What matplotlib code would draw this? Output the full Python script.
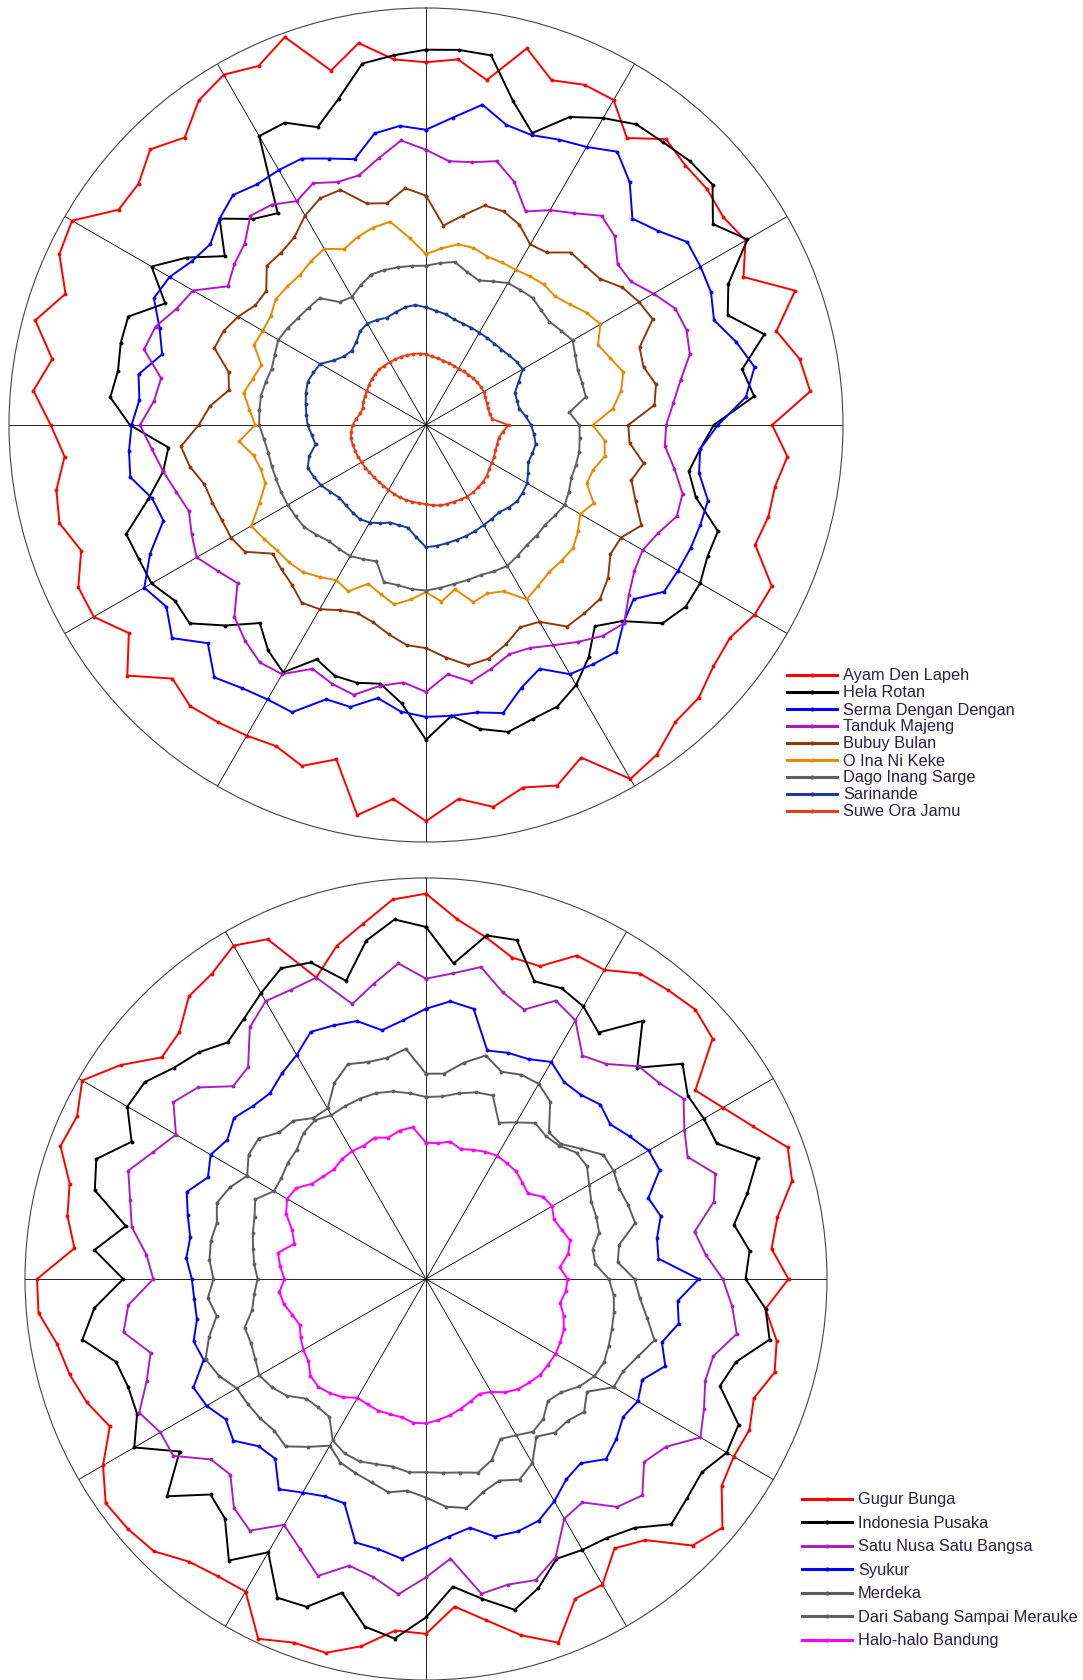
import numpy as np
import matplotlib.pyplot as plt
from matplotlib.lines import Line2D

plt.rcParams['font.family'] = ['Liberation Sans', 'DejaVu Sans']

# radius of every song, read every 5 degrees clockwise from the top (outer ring = 1)
ayam_den_lapeh = [0.87, 0.88, 0.84, 0.935, 0.88, 0.90, 0.90, 0.84, 0.895, 0.88,
                  0.88, 0.87, 0.885, 0.84, 0.942, 0.87, 0.91, 0.925, 0.83, 0.87,
                  0.85, 0.85, 0.84, 0.915, 0.91, 0.89, 0.90, 0.925, 0.93, 0.965,
                  0.98, 0.88, 0.92, 0.90, 0.93, 0.90, 0.95, 0.90, 0.95, 0.83,
                  0.87, 0.85, 0.86, 0.87, 0.88, 0.86, 0.935, 0.87, 0.92, 0.92,
                  0.88, 0.91, 0.90, 0.87, 0.90, 0.945, 0.91, 0.97, 0.92, 0.97,
                  0.98, 0.90, 0.90, 0.935, 0.90, 0.95, 0.97, 0.95, 0.99, 0.88,
                  0.93, 0.88]
hela_rotan = [0.90, 0.903, 0.90, 0.805, 0.745, 0.815, 0.85, 0.88, 0.885, 0.895,
              0.897, 0.84, 0.89, 0.80, 0.77, 0.84, 0.77, 0.79, 0.69, 0.66,
              0.64, 0.67, 0.745, 0.745, 0.759, 0.76, 0.74, 0.665, 0.63, 0.68,
              0.72, 0.745, 0.75, 0.762, 0.74, 0.70, 0.755, 0.67, 0.63, 0.64,
              0.64, 0.62, 0.685, 0.66, 0.62, 0.68, 0.74, 0.735, 0.76, 0.76,
              0.765, 0.69, 0.64, 0.62, 0.71, 0.76, 0.75, 0.758, 0.76, 0.69,
              0.76, 0.70, 0.63, 0.70, 0.645, 0.62, 0.80, 0.80, 0.76, 0.81,
              0.88, 0.89]
serma_dengan_dengan = [0.708, 0.74, 0.78, 0.745, 0.74, 0.755, 0.77, 0.80, 0.76, 0.70,
                       0.725, 0.765, 0.76, 0.754, 0.735, 0.77, 0.80, 0.77, 0.70, 0.66,
                       0.665, 0.70, 0.70, 0.70, 0.698, 0.697, 0.65, 0.67, 0.71, 0.70,
                       0.69, 0.645, 0.67, 0.715, 0.70, 0.70, 0.70, 0.69, 0.665, 0.70,
                       0.70, 0.76, 0.76, 0.77, 0.79, 0.74, 0.795, 0.76, 0.78, 0.73,
                       0.67, 0.68, 0.72, 0.715, 0.706, 0.69, 0.70, 0.655, 0.68, 0.72,
                       0.71, 0.685, 0.675, 0.70, 0.72, 0.705, 0.706, 0.705, 0.68, 0.66,
                       0.71, 0.72]
tanduk_majeng = [0.66, 0.635, 0.64, 0.655, 0.62, 0.565, 0.595, 0.62, 0.655, 0.64,
                 0.60, 0.60, 0.63, 0.66, 0.665, 0.655, 0.62, 0.595, 0.576, 0.575,
                 0.605, 0.637, 0.64, 0.614, 0.60, 0.61, 0.635, 0.672, 0.66, 0.635,
                 0.61, 0.59, 0.585, 0.605, 0.625, 0.60, 0.64, 0.62, 0.635, 0.67,
                 0.66, 0.645, 0.69, 0.695, 0.675, 0.65, 0.59, 0.61, 0.635, 0.62,
                 0.605, 0.62, 0.64, 0.66, 0.686, 0.655, 0.645, 0.70, 0.69, 0.66,
                 0.645, 0.58, 0.60, 0.615, 0.655, 0.645, 0.62, 0.64, 0.62, 0.62,
                 0.65, 0.685]
bubuy_bulan = [0.55, 0.48, 0.51, 0.545, 0.545, 0.53, 0.50, 0.505, 0.54, 0.54,
               0.545, 0.575, 0.59, 0.60, 0.545, 0.54, 0.56, 0.55, 0.485, 0.49,
               0.53, 0.51, 0.535, 0.57, 0.54, 0.54, 0.57, 0.59, 0.59, 0.59,
               0.545, 0.535, 0.56, 0.58, 0.585, 0.56, 0.535, 0.53, 0.51, 0.49,
               0.48, 0.49, 0.51, 0.52, 0.50, 0.49, 0.48, 0.53, 0.54, 0.54,
               0.545, 0.55, 0.575, 0.59, 0.545, 0.52, 0.48, 0.49, 0.54, 0.535,
               0.52, 0.50, 0.50, 0.54, 0.54, 0.55, 0.58, 0.60, 0.60, 0.55,
               0.54, 0.57]
o_ina_ni_keke = [0.41, 0.425, 0.44, 0.44, 0.43, 0.43, 0.43, 0.435, 0.44, 0.437,
                 0.45, 0.47, 0.483, 0.455, 0.47, 0.49, 0.475, 0.45, 0.40, 0.43,
                 0.435, 0.415, 0.41, 0.444, 0.427, 0.445, 0.46, 0.46, 0.46, 0.47,
                 0.483, 0.44, 0.43, 0.44, 0.40, 0.425, 0.401, 0.42, 0.437, 0.42,
                 0.405, 0.44, 0.43, 0.445, 0.46, 0.465, 0.467, 0.475, 0.484, 0.44,
                 0.41, 0.41, 0.42, 0.45, 0.41, 0.425, 0.444, 0.43, 0.42, 0.455,
                 0.452, 0.455, 0.47, 0.47, 0.47, 0.48, 0.488, 0.465, 0.48, 0.49,
                 0.495, 0.45]
dago_inang_sarge = [0.382, 0.39, 0.397, 0.38, 0.369, 0.38, 0.393, 0.395, 0.398, 0.39,
                    0.386, 0.395, 0.406, 0.395, 0.387, 0.388, 0.389, 0.345, 0.368, 0.37,
                    0.373, 0.372, 0.371, 0.378, 0.384, 0.378, 0.373, 0.375, 0.376, 0.383,
                    0.39, 0.387, 0.383, 0.385, 0.387, 0.392, 0.397, 0.395, 0.39, 0.39,
                    0.348, 0.355, 0.363, 0.363, 0.363, 0.372, 0.381, 0.382, 0.383, 0.383,
                    0.382, 0.383, 0.384, 0.39, 0.40, 0.401, 0.402, 0.398, 0.394, 0.40,
                    0.409, 0.405, 0.40, 0.398, 0.397, 0.36, 0.355, 0.37, 0.384, 0.385,
                    0.384, 0.383]
sarinande = [0.282, 0.275, 0.27, 0.262, 0.259, 0.257, 0.256, 0.255, 0.255, 0.256,
             0.26, 0.265, 0.268, 0.245, 0.227, 0.226, 0.227, 0.24, 0.252, 0.26,
             0.267, 0.264, 0.261, 0.27, 0.28, 0.283, 0.285, 0.28, 0.273, 0.275,
             0.277, 0.28, 0.283, 0.285, 0.288, 0.291, 0.293, 0.27, 0.25, 0.249,
             0.249, 0.26, 0.27, 0.276, 0.274, 0.272, 0.271, 0.28, 0.29, 0.296,
             0.302, 0.29, 0.269, 0.275, 0.284, 0.288, 0.293, 0.298, 0.302, 0.298,
             0.293, 0.27, 0.256, 0.252, 0.26, 0.275, 0.281, 0.278, 0.274, 0.28,
             0.287, 0.289]
suwe_ora_jamu = [0.17, 0.165, 0.162, 0.16, 0.158, 0.157, 0.156, 0.157, 0.158, 0.159,
                 0.16, 0.16, 0.16, 0.157, 0.155, 0.154, 0.155, 0.16, 0.198, 0.185,
                 0.177, 0.177, 0.177, 0.18, 0.182, 0.185, 0.19, 0.193, 0.195, 0.197,
                 0.198, 0.197, 0.196, 0.196, 0.196, 0.193, 0.19, 0.188, 0.187, 0.186,
                 0.185, 0.182, 0.18, 0.178, 0.177, 0.177, 0.177, 0.178, 0.178, 0.18,
                 0.181, 0.182, 0.183, 0.18, 0.176, 0.168, 0.16, 0.157, 0.16, 0.162,
                 0.164, 0.167, 0.17, 0.172, 0.174, 0.174, 0.174, 0.174, 0.174, 0.174,
                 0.173, 0.172]

gugur_bunga = [0.961, 0.90, 0.865, 0.83, 0.83, 0.89, 0.89, 0.93, 0.94, 0.95,
               0.933, 0.82, 0.855, 0.90, 0.96, 0.945, 0.89, 0.865, 0.904, 0.85,
               0.888, 0.90, 0.87, 0.89, 0.886, 0.90, 0.965, 0.94, 0.85, 0.82,
               0.88, 0.88, 0.965, 0.92, 0.864, 0.82, 0.885, 0.88, 0.93, 0.965,
               0.965, 0.99, 0.90, 0.905, 0.92, 0.96, 0.97, 0.975, 0.93, 0.87,
               0.90, 0.92, 0.934, 0.97, 0.97, 0.88, 0.908, 0.92, 0.97, 0.96,
               0.99, 0.93, 0.86, 0.87, 0.92, 0.93, 0.96, 0.935, 0.80, 0.86,
               0.90, 0.95]
indonesia_pusaka = [0.878, 0.79, 0.87, 0.875, 0.79, 0.80, 0.785, 0.75, 0.84, 0.745,
                    0.835, 0.797, 0.80, 0.80, 0.88, 0.83, 0.78, 0.81, 0.797, 0.85,
                    0.87, 0.80, 0.78, 0.86, 0.866, 0.84, 0.85, 0.865, 0.81, 0.788,
                    0.78, 0.77, 0.82, 0.854, 0.81, 0.77, 0.844, 0.90, 0.88, 0.81,
                    0.87, 0.877, 0.787, 0.857, 0.78, 0.76, 0.843, 0.75, 0.84, 0.795,
                    0.79, 0.80, 0.87, 0.83, 0.755, 0.83, 0.76, 0.855, 0.875, 0.81,
                    0.86, 0.856, 0.82, 0.80, 0.77, 0.792, 0.823, 0.855, 0.84, 0.77,
                    0.857, 0.90]
satu_nusa_satu_bangsa = [0.749, 0.765, 0.79, 0.74, 0.715, 0.766, 0.745, 0.68, 0.70, 0.75,
                         0.76, 0.784, 0.744, 0.72, 0.768, 0.743, 0.68, 0.70, 0.74, 0.766,
                         0.787, 0.742, 0.741, 0.765, 0.79, 0.73, 0.71, 0.763, 0.742, 0.68,
                         0.69, 0.765, 0.799, 0.789, 0.797, 0.70, 0.744, 0.789, 0.755, 0.74,
                         0.788, 0.743, 0.708, 0.766, 0.745, 0.69, 0.70, 0.769, 0.765, 0.789,
                         0.741, 0.711, 0.766, 0.745, 0.68, 0.70, 0.745, 0.764, 0.79, 0.75,
                         0.72, 0.769, 0.743, 0.68, 0.69, 0.766, 0.80, 0.796, 0.80, 0.71,
                         0.748, 0.79]
syukur = [0.674, 0.695, 0.684, 0.59, 0.60, 0.605, 0.625, 0.60, 0.60, 0.615,
          0.60, 0.62, 0.641, 0.643, 0.59, 0.606, 0.585, 0.582, 0.68, 0.63,
          0.64, 0.609, 0.635, 0.595, 0.61, 0.60, 0.62, 0.635, 0.60, 0.61,
          0.64, 0.665, 0.67, 0.665, 0.63, 0.645, 0.669, 0.70, 0.684, 0.68,
          0.595, 0.598, 0.615, 0.64, 0.585, 0.59, 0.627, 0.61, 0.632, 0.64,
          0.59, 0.60, 0.58, 0.58, 0.584, 0.60, 0.597, 0.615, 0.635, 0.60,
          0.62, 0.605, 0.625, 0.61, 0.605, 0.626, 0.645, 0.68, 0.673, 0.666,
          0.63, 0.648]
merdeka = [0.512, 0.514, 0.548, 0.577, 0.55, 0.562, 0.562, 0.54, 0.477, 0.476,
           0.505, 0.54, 0.54, 0.532, 0.537, 0.54, 0.489, 0.48, 0.52, 0.535,
           0.56, 0.59, 0.563, 0.543, 0.54, 0.49, 0.515, 0.50, 0.50, 0.48,
           0.53, 0.552, 0.535, 0.55, 0.58, 0.57, 0.545, 0.53, 0.54, 0.525,
           0.515, 0.505, 0.48, 0.511, 0.545, 0.535, 0.54, 0.543, 0.545, 0.57,
           0.585, 0.56, 0.53, 0.546, 0.53, 0.542, 0.545, 0.54, 0.555, 0.54,
           0.515, 0.54, 0.545, 0.517, 0.515, 0.49, 0.491, 0.54, 0.57, 0.56,
           0.56, 0.576]
dari_sabang = [0.454, 0.457, 0.47, 0.482, 0.487, 0.43, 0.451, 0.475, 0.465, 0.47,
               0.49, 0.49, 0.47, 0.455, 0.452, 0.447, 0.422, 0.424, 0.456, 0.47,
               0.476, 0.48, 0.485, 0.49, 0.485, 0.467, 0.44, 0.43, 0.455, 0.465,
               0.45, 0.44, 0.48, 0.50, 0.49, 0.485, 0.482, 0.484, 0.475, 0.478,
               0.484, 0.48, 0.465, 0.42, 0.418, 0.422, 0.453, 0.47, 0.48, 0.47,
               0.465, 0.468, 0.44, 0.43, 0.42, 0.43, 0.438, 0.447, 0.455, 0.47,
               0.438, 0.44, 0.45, 0.456, 0.475, 0.483, 0.472, 0.476, 0.479, 0.48,
               0.475, 0.465]
halo_halo_bandung = [0.34, 0.34, 0.348, 0.335, 0.343, 0.35, 0.355, 0.352, 0.35, 0.34,
                     0.332, 0.357, 0.363, 0.352, 0.36, 0.372, 0.36, 0.335, 0.353, 0.35,
                     0.34, 0.355, 0.366, 0.37, 0.373, 0.372, 0.372, 0.365, 0.358, 0.345,
                     0.325, 0.316, 0.325, 0.335, 0.345, 0.353, 0.36, 0.36, 0.35, 0.349,
                     0.349, 0.345, 0.342, 0.36, 0.372, 0.38, 0.376, 0.358, 0.353, 0.345,
                     0.335, 0.345, 0.36, 0.367, 0.353, 0.365, 0.375, 0.34, 0.355, 0.385,
                     0.40, 0.395, 0.37, 0.362, 0.357, 0.365, 0.368, 0.367, 0.375, 0.365,
                     0.376, 0.38]

top_names = ["Ayam Den Lapeh", "Hela Rotan", "Serma Dengan Dengan", "Tanduk Majeng",
             "Bubuy Bulan", "O Ina Ni Keke", "Dago Inang Sarge", "Sarinande", "Suwe Ora Jamu"]
top_series = [ayam_den_lapeh, hela_rotan, serma_dengan_dengan, tanduk_majeng,
              bubuy_bulan, o_ina_ni_keke, dago_inang_sarge, sarinande, suwe_ora_jamu]
top_colors = ["#ff0000", "#000000", "#0000ff", "#b414c8", "#8b3a0c",
              "#e68a00", "#606060", "#1c3a96", "#e0401a"]

bottom_names = ["Gugur Bunga", "Indonesia Pusaka", "Satu Nusa Satu Bangsa", "Syukur",
                "Merdeka", "Dari Sabang Sampai Merauke", "Halo-halo Bandung"]
bottom_series = [gugur_bunga, indonesia_pusaka, satu_nusa_satu_bangsa, syukur,
                 merdeka, dari_sabang, halo_halo_bandung]
bottom_colors = ["#ff0000", "#000000", "#a820c0", "#0000ff", "#5c5c5c", "#606060", "#ff00ff"]

W, H = 1083, 1681
fig = plt.figure(figsize=(W / 100, H / 100), dpi=100)


def radar(rect, series, colors):
    ax = fig.add_axes(rect, projection='polar')
    for vals, col in zip(series, colors):
        r = np.array(vals + vals[:1])
        th = np.deg2rad(np.linspace(0, 360, len(vals) + 1))
        ax.plot(th, r, color=col, lw=1.4, marker='o', ms=2.8, mew=0)
    ax.set_theta_zero_location('N')
    ax.set_theta_direction(-1)
    ax.set_ylim(0, 1)
    ax.set_yticks([])
    ax.set_xticks(np.deg2rad(np.arange(0, 360, 30)))
    ax.set_xticklabels([])
    ax.xaxis.grid(True, color='black', lw=0.6)
    ax.spines['polar'].set_color('#444444')
    ax.spines['polar'].set_linewidth(0.8)
    return ax


def px_rect(cx, cy, rad):
    return [(cx - rad) / W, 1 - (cy + rad) / H, 2 * rad / W, 2 * rad / H]


def legend(names, colors, x0, x1, xt, y0, dy):
    for i, (name, col) in enumerate(zip(names, colors)):
        y = 1 - (y0 + dy * i) / H
        fig.add_artist(Line2D([x0 / W, x1 / W], [y, y], color=col, lw=2.2))
        fig.add_artist(Line2D([(x0 + x1) / 2 / W], [y], color=col, marker='o', ms=3, mew=0))
        fig.text(xt / W, y, name, va='center', ha='left', fontsize=11.8, color='#2a2040')


radar(px_rect(426, 426, 417), top_series, top_colors)
radar(px_rect(426, 1280, 401), bottom_series, bottom_colors)

legend(top_names, top_colors, 787, 837, 843, 676, 17.0)
legend(bottom_names, bottom_colors, 802, 852, 858, 1500, 23.45)

fig.savefig('out.png', dpi=100, facecolor='white')
